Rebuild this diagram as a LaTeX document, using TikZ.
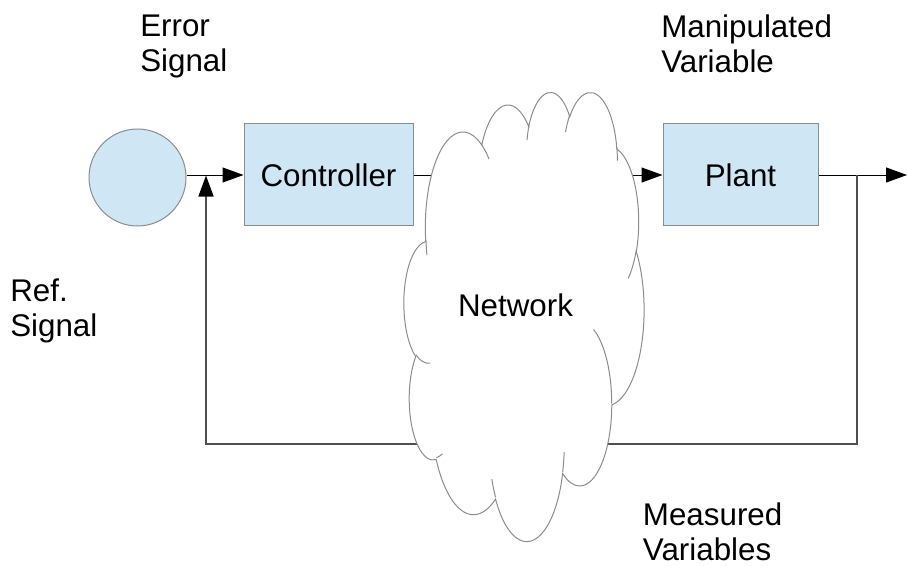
\documentclass[tikz,border=0pt]{standalone}
\usepackage{fontspec}
\setmainfont{Liberation Sans}
\usetikzlibrary{arrows.meta}

\definecolor{boxfill}{HTML}{CFE7F5}
\definecolor{boxedge}{HTML}{8C8C8C}
\definecolor{cloudedge}{HTML}{8C8C8C}
\definecolor{loopline}{HTML}{505050}

\makeatletter
% parametric angle on an ellipse with radii #1, #2 for the visual angle #3
\pgfmathdeclarefunction{vpar}{3}{%
  \begingroup
    \pgfmathsetmacro\cl@d{atan2((#1)*sin(#3),(#2)*cos(#3))-(#3)}%
    \pgfmathsetmacro\cl@d{(#3)+\cl@d-360*round(\cl@d/360)}%
    \pgfmathparse{\cl@d}%
    \pgfmath@smuggleone\pgfmathresult
  \endgroup}
\makeatother
% elliptic arc: radii, visual start angle, sweep (clockwise on screen)
\newcommand\carc[4]{arc[start angle={vpar(#1,#2,#3)}, end angle={vpar(#1,#2,(#3)+(#4))}, x radius=#1, y radius=#2]}

\begin{document}
\begin{tikzpicture}[x=1pt, y=1pt, xscale=0.75, yscale=-0.75,
  lbl/.style={font=\fontsize{23.5pt}{26.25pt}\selectfont, inner sep=0pt, align=left, anchor=north west},
  blk/.style={draw=boxedge, fill=boxfill, line width=0.75pt, inner sep=0pt, font=\fontsize{23.5pt}{27pt}\selectfont},
  fwd/.style={line width=0.75pt, -{Triangle[length=15.75pt, width=11.25pt]}},
  fback/.style={draw=loopline, line width=1.2pt, -{Triangle[length=15.75pt, width=11.25pt, color=black]}},
  cloudpath/.style={draw=cloudedge, line width=0.75pt, fill=white},
  cloudhook/.style={draw=cloudedge, line width=0.75pt}
]
\useasboundingbox (0,0) rectangle (907,566);

% blocks
\node[blk, circle, minimum size=72.75pt] (ref) at (137.5,177.5) {};
\node[blk, minimum width=126.75pt, minimum height=76.5pt] (ctrl) at (328.5,175) {Controller};
\node[blk, minimum width=116.25pt, minimum height=76.5pt] (plant) at (740.5,175) {Plant};

% loop corners and branch points
\coordinate (out) at (907,175);
\coordinate (tap) at (857,175);
\coordinate (fbR) at (857,444);
\coordinate (fbL) at (206,444);
\coordinate (sum) at (206,175.5);

% signal lines
\draw[fwd] (ref.east |- ctrl.west) -- (ctrl.west);
\draw[fwd] (ctrl.east) -- (plant.west);
\draw[fwd] (plant.east) -- (out);
\draw[fback] (tap) -- (fbR) -- (fbL) -- (sum);

% network cloud
\begin{scope}[shift={(404,91)}, xscale=240/432, yscale=449/432]
  \path[cloudpath] (39.00,143.70)
    \carc{67.53}{91.90}{-190.487483}{123.780533}
    \carc{53.33}{72.67}{-144.102383}{89.945233}
    \carc{43.65}{59.45}{-145.807917}{99.723017}
    \carc{48.57}{65.95}{-130.986067}{117.241733}
    \carc{53.33}{72.73}{-78.708883}{109.026917}
    \carc{67.75}{92.20}{-46.26725}{130.269}
    \carc{57.85}{78.67}{0.625017}{114.033333}
    \carc{67.52}{92.15}{22.4516}{115.17255}
    \carc{77.20}{105.43}{66.242633}{75.711017}
    \carc{43.60}{59.18}{-274.942083}{146.735567}
    \carc{43.45}{59.45}{-246.8285}{152.51885}
    -- cycle;
  \path[cloudhook]
    (46.93,261.77) \carc{43.45}{59.45}{86.742}{26.4295}
    (69.28,348.99) \carc{43.60}{59.18}{73.610467}{11.447467}
    (164.78,390.90) \carc{67.52}{92.15}{137.62415}{14.0811}
    (288.27,347.51) \carc{67.52}{92.15}{6.453267}{15.99835}
    (341.29,229.54) \carc{57.85}{78.67}{-70.29235}{70.917367}
    (417.98,153.54) \carc{53.33}{72.73}{30.318033}{27.7515}
    (383.24,54.26) \carc{48.57}{65.95}{-13.744333}{14.8589}
    (290.78,39.52) \carc{48.57}{65.95}{-149.18145}{18.195367}
    (221.41,47.20) \carc{43.65}{59.45}{-163.494267}{17.68635}
    (140.00,51.92) \carc{67.53}{91.90}{-66.70695}{12.31935}
    (41.27,157.89) \carc{67.53}{91.90}{162.04755}{11.858867};
\end{scope}
\node[font=\fontsize{23.5pt}{27pt}\selectfont, inner sep=0pt, anchor=base] (net) at (515.5,316.5) {Network};

% labels
\node[lbl] (errlbl) at (140,14.4) {Error\\Signal};
\node[lbl] (manlbl) at (661,14.4) {Manipulated\\Variable};
\node[lbl] (reflbl) at (10,278.5) {Ref.\\Signal};
\node[lbl] (meslbl) at (642.7,502.7) {Measured\\Variables};
\end{tikzpicture}
\end{document}
